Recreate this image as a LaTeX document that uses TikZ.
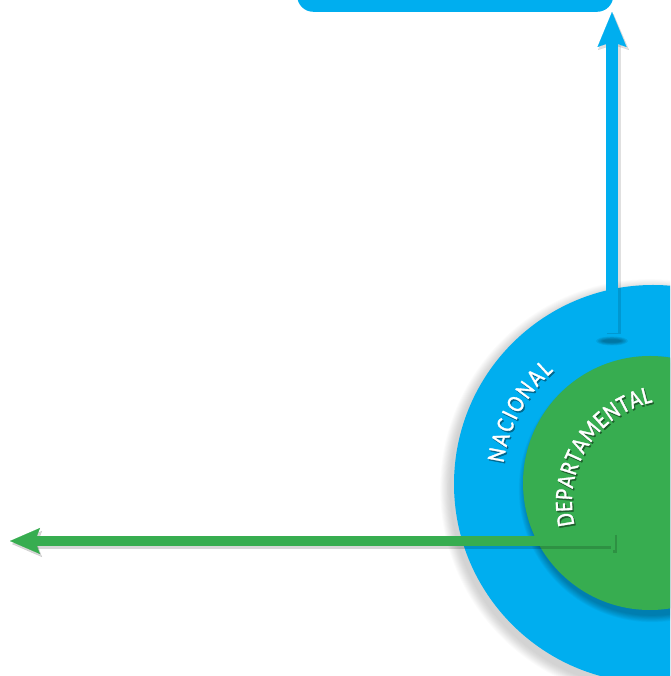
\documentclass[tikz,border=0pt]{standalone}
\usepackage{fontspec}
\newfontfamily\carl[FakeStretch=0.85,FakeBold=1.3]{Carlito}
\newcommand\arcfont{\carl\fontsize{25pt}{25pt}\selectfont}
\usetikzlibrary{arrows.meta,decorations.text,calc}
\definecolor{natblue}{RGB}{0,174,239}
\definecolor{depgreen}{RGB}{55,173,80}
\tikzset{
  disc/.style={circle,inner sep=0pt,draw=none},
  arctext/.style={decorate,decoration={text along path,text align={fit to path},text color=#1}},
  bluearrow/.style={natblue,line width=12pt,-{Stealth[length=35pt,width=29pt,inset=5pt,line width=0.1pt]}},
  greenarrow/.style={depgreen,line width=10pt,{Bar[width=18pt,line width=4pt]}-{Stealth[length=30pt,width=26pt,inset=5pt,line width=0.1pt]}},
}
\begin{document}
\arcfont
\begin{tikzpicture}[x=1pt,y=1pt]
\useasboundingbox (0,0) rectangle (670,676);
\clip (0,0) rectangle (670,676);
% soft shadow of the outer disc
\foreach \i in {1,...,12} \fill[black,opacity=0.016] (650,187) circle ({199+\i*0.9});
\node[disc,fill=natblue,minimum size=398pt] (nacional) at (653,192) {};
% soft shadow of the inner disc
\foreach \i in {1,...,9} \fill[black,opacity=0.03] (652,187) circle ({126+\i*0.8});
\node[disc,fill=depgreen,minimum size=254pt] (departamental) at (650,193) {};
% top box
\node[fill=natblue,rounded corners=16pt,minimum width=316pt,minimum height=60pt,anchor=south west,inner sep=0pt] (box) at (297,664) {};
% arc texts (shadow, then white)
\coordinate (nc) at (652,192);
\coordinate (dc) at (674,174);
\path[arctext=natblue!60!black,decoration={text={|\arcfont|NACIONAL}}]
  ([shift={(172:150)},shift={(1.3,-1.6)}]nc) arc[start angle=172,end angle=131,radius=150];
\path[arctext=white,decoration={text={|\arcfont|NACIONAL}}]
  ([shift={(172:150)}]nc) arc[start angle=172,end angle=131,radius=150];
\path[arctext=depgreen!55!black,decoration={text={|\arcfont|DEPARTAMENTAL}}]
  ([shift={(193:102)},shift={(1.3,-1.6)}]dc) arc[start angle=193,end angle=102,radius=102];
\path[arctext=white,decoration={text={|\arcfont|DEPARTAMENTAL}}]
  ([shift={(193:102)}]dc) arc[start angle=193,end angle=102,radius=102];
% blue arrow
\coordinate (bstart) at (612,343);
\coordinate (btip) at (box.south -| bstart);
\foreach \i in {1,...,5} \fill[black,opacity=0.07] (612,335) ellipse ({8+\i*1.6} and {1+\i*0.7});
\draw[black,opacity=0.12,line width=14pt,-{Stealth[length=36pt,width=31pt,inset=5pt,line width=0.1pt]}] ([shift={(1.5,-1.5)}]bstart) -- ([shift={(1.5,-2)}]btip);
\draw[bluearrow] (bstart) -- (btip);
% green arrow
\coordinate (gstart) at (615,135);
\coordinate (gend) at (10,135);
\draw[black,opacity=0.16,line width=10pt,{Bar[width=18pt,line width=4pt]}-{Stealth[length=30pt,width=26pt,inset=5pt,line width=0.1pt]}] ([shift={(2,-3)}]gstart) -- ([shift={(2,-3)}]gend);
\draw[greenarrow] (gstart) -- (gend);
\end{tikzpicture}
\end{document}
